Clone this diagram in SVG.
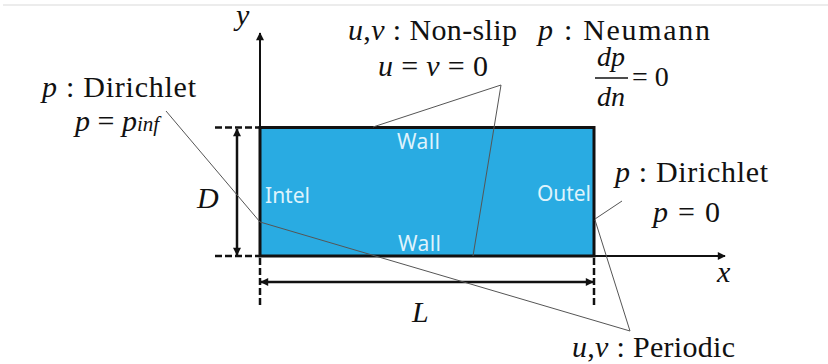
<svg xmlns="http://www.w3.org/2000/svg" width="828" height="364" viewBox="0 0 828 364">
<style>
.m{font-family:"Times New Roman","Liberation Serif","DejaVu Serif",serif;fill:#111;}
.i{font-style:italic;}
.w{font-family:"Noto Sans","Open Sans",sans-serif;font-size:21px;fill:#dff3fc;}
.ax{stroke:#111;stroke-width:2;fill:none;}
.dim{stroke:#111;stroke-width:2.5;fill:none;}
.dash{stroke:#111;stroke-width:2.5;stroke-dasharray:7 3;fill:none;}
.lead{stroke:#555;stroke-width:1;fill:none;}
</style>
<defs>
<marker id="ah" viewBox="0 0 10 10" refX="9" refY="5" markerWidth="9" markerHeight="8" markerUnits="userSpaceOnUse" orient="auto-start-reverse">
<path d="M0,0 L10,5 L0,10 z" fill="#111"/>
</marker>
</defs>
<line x1="3" y1="5" x2="828" y2="5" stroke="#e6e6e6" stroke-width="1.5"/>
<g id="domain">
<rect x="260" y="127.5" width="334" height="128.5" fill="#29abe2" stroke="#111" stroke-width="3"/>
<text class="w" x="397" y="149" textLength="43">Wall</text>
<text class="w" x="398" y="251" textLength="43">Wall</text>
<text class="w" x="265" y="203" textLength="45">Intel</text>
<text class="w" x="537" y="201" textLength="54">Outel</text>
</g>
<g id="axes">
<line class="ax" x1="260" y1="256" x2="260" y2="33" marker-end="url(#ah)"/>
<line class="ax" x1="260" y1="256" x2="725" y2="256" marker-end="url(#ah)"/>
<text class="m i" x="236" y="25" font-size="30">y</text>
<text class="m i" x="717" y="282" font-size="30">x</text>
</g>
<g id="dimensions">
<line class="dash" x1="215" y1="127.5" x2="260" y2="127.5"/>
<line class="dash" x1="215" y1="256" x2="260" y2="256"/>
<line class="dash" x1="260" y1="258" x2="260" y2="308"/>
<line class="dash" x1="594" y1="258" x2="594" y2="308"/>
<line class="dim" x1="237" y1="129" x2="237" y2="255" marker-start="url(#ah)" marker-end="url(#ah)"/>
<line class="dim" x1="261" y1="282" x2="593" y2="282" marker-start="url(#ah)" marker-end="url(#ah)"/>
<text class="m i" x="197" y="208" font-size="30">D</text>
<text class="m i" x="412" y="322" font-size="30">L</text>
</g>
<g id="connectors">
<polyline class="lead" points="166,111 260,222 630,331 595,220"/>
<polyline class="lead" points="373,127 501,85 473,256"/>
<line class="lead" x1="595" y1="219" x2="622" y2="201"/>
</g>
<g id="inlet-label">
<text class="m" x="42" y="97" font-size="30" textLength="154"><tspan class="i">p</tspan> : Dirichlet</text>
<text class="m" x="75" y="131" font-size="30"><tspan class="i">p</tspan> = <tspan class="i">p</tspan><tspan class="i" font-size="21">inf</tspan></text>
</g>
<g id="wall-label">
<text class="m" x="348" y="40" font-size="30" textLength="169"><tspan class="i">u</tspan>,<tspan class="i">v</tspan> : Non-slip</text>
<text class="m" x="378" y="76" font-size="30" textLength="110"><tspan class="i">u</tspan> = <tspan class="i">v</tspan> = 0</text>
<text class="m" x="538" y="40" font-size="30" textLength="172"><tspan class="i">p</tspan>  : Neumann</text>
<text class="m i" x="597" y="66" font-size="28">dp</text>
<line x1="595" y1="78" x2="628" y2="78" stroke="#111" stroke-width="1.3"/>
<text class="m i" x="597" y="106" font-size="28">dn</text>
<text class="m" x="632" y="86" font-size="28">= 0</text>
</g>
<g id="outlet-label">
<text class="m" x="615" y="182" font-size="30" textLength="153"><tspan class="i">p</tspan> : Dirichlet</text>
<text class="m" x="653" y="222" font-size="30" textLength="67"><tspan class="i">p</tspan> = 0</text>
</g>
<g id="periodic-label">
<text class="m" x="572" y="357" font-size="30" textLength="163"><tspan class="i">u</tspan>,<tspan class="i">v</tspan> : Periodic</text>
</g>
</svg>
